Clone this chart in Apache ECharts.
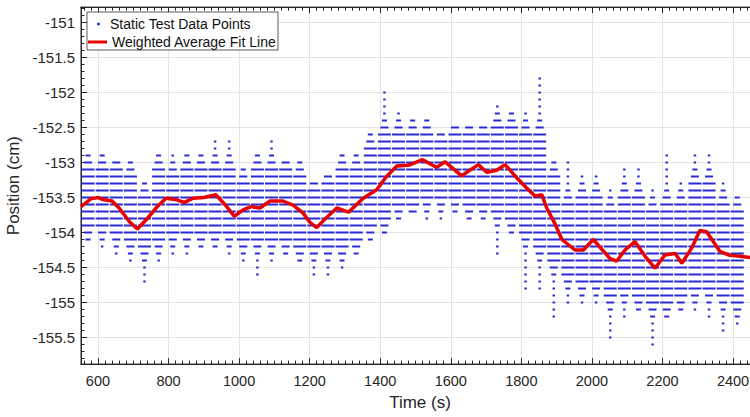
<!DOCTYPE html>
<html><head><meta charset="utf-8">
<script src="https://cdn.jsdelivr.net/npm/echarts@6/dist/echarts.min.js"></script>
<style>html,body{margin:0;padding:0;background:#fff}#c{width:750px;height:417px}</style>
</head><body><div id="c"></div>
<script>
// ---- tick labels ----
const xTickLabels = [600, 800, 1000, 1200, 1400, 1600, 1800, 2000, 2200, 2400];
const yTickLabels = [-155.5, -155, -154.5, -154, -153.5, -153, -152.5, -152, -151.5, -151];

// ---- static test data: per 40 s window, observed 0.1 cm levels ----
const windowCenters = [572,612,652,692,732,772,812,852,892,932,972,1012,1052,1092,1132,1172,1212,1252,1292,1332,1372,1412,1452,1492,1532,1572,1612,1652,1692,1732,1772,1812,1852,1892,1932,1972,2012,2052,2092,2132,2172,2212,2252,2292,2332,2372,2412,2452];
const extHi  = [-152.9,-152.9,-153.0,-153.0,-153.3,-152.9,-152.9,-152.9,-152.9,-152.7,-152.7,-153.1,-152.9,-152.7,-153.0,-153.0,-153.3,-153.2,-152.9,-152.9,-152.6,-152.0,-152.3,-152.4,-152.4,-152.6,-152.5,-152.5,-152.5,-152.2,-152.3,-152.3,-151.8,-153.0,-153.0,-153.2,-153.2,-153.4,-153.1,-153.1,-153.4,-152.9,-153.3,-152.9,-152.9,-153.3,-153.5,-153.5];
const coreHi = [-153.1,-153.1,-153.1,-153.2,-153.5,-153.1,-153.2,-153.1,-153.1,-153.1,-153.1,-153.3,-153.1,-153.1,-153.1,-153.2,-153.4,-153.3,-153.1,-153.1,-152.8,-152.6,-152.6,-152.6,-152.6,-152.7,-152.6,-152.6,-152.6,-152.5,-152.5,-152.6,-152.6,-153.2,-153.6,-153.5,-153.5,-153.7,-153.5,-153.5,-153.7,-153.6,-153.6,-153.3,-153.3,-153.6,-153.7,-153.7];
const coreLo = [-153.9,-153.9,-154.0,-154.1,-154.2,-154.1,-154.0,-154.0,-154.0,-154.0,-154.0,-154.1,-154.1,-154.1,-154.1,-154.2,-154.2,-154.2,-154.2,-154.1,-153.9,-153.8,-153.6,-153.6,-153.5,-153.5,-153.5,-153.6,-153.6,-153.7,-153.8,-154.0,-154.2,-154.4,-154.6,-154.7,-154.7,-154.9,-154.8,-154.9,-155.0,-155.0,-154.9,-154.8,-154.8,-154.9,-155.0,-155.0];
const extLo  = [-154.1,-154.2,-154.3,-154.4,-154.7,-154.4,-154.3,-154.3,-154.2,-154.2,-154.3,-154.4,-154.6,-154.4,-154.3,-154.4,-154.6,-154.6,-154.5,-154.3,-154.1,-154.0,-153.8,-153.7,-153.8,-153.8,-153.7,-153.8,-153.8,-154.3,-154.0,-154.8,-154.8,-155.2,-155.0,-155.0,-155.0,-155.5,-155.2,-155.1,-155.6,-155.2,-155.1,-155.1,-155.2,-155.4,-155.3,-155.2];

// ---- weighted average fit line ----
const fitTimes  = [552,580,600,614,640,660,690,712,740,770,793,820,845,870,900,934,960,987,1010,1034,1059,1088,1124,1153,1181,1200,1220,1245,1277,1310,1352,1390,1418,1447,1480,1520,1560,1584,1631,1678,1702,1730,1754,1791,1820,1839,1858,1872,1895,1915,1952,1976,2004,2030,2051,2070,2094,2122,2151,2179,2207,2236,2255,2283,2306,2325,2344,2363,2387,2420,2451];
const fitValues = [-153.63,-153.52,-153.50,-153.53,-153.55,-153.65,-153.85,-153.95,-153.80,-153.62,-153.51,-153.53,-153.57,-153.51,-153.50,-153.46,-153.60,-153.77,-153.68,-153.63,-153.65,-153.55,-153.55,-153.61,-153.72,-153.85,-153.93,-153.80,-153.65,-153.71,-153.51,-153.39,-153.20,-153.05,-153.04,-152.96,-153.07,-152.99,-153.19,-153.03,-153.14,-153.11,-153.03,-153.24,-153.39,-153.48,-153.46,-153.65,-153.87,-154.10,-154.25,-154.25,-154.10,-154.25,-154.37,-154.41,-154.25,-154.13,-154.34,-154.51,-154.32,-154.30,-154.44,-154.22,-153.97,-153.99,-154.13,-154.27,-154.32,-154.34,-154.36];

// ---- build series data ----
const scatterData = [];
windowCenters.forEach((t, i) => {
  const hi = Math.round(extHi[i] * 10), lo = Math.round(extLo[i] * 10);
  const ch = Math.round(coreHi[i] * 10), cl = Math.round(coreLo[i] * 10);
  for (let k = lo; k <= hi; k++) {
    let d = 0;
    if (k > ch) d = k - ch; else if (k < cl) d = cl - k;
    scatterData.push([t, k / 10, d]);
  }
});
const fitData = fitTimes.map((t, i) => [t, fitValues[i]]);

const xMinor = []; for (let v = 560; v <= 2440; v += 20) xMinor.push(v);
const yMinor = []; for (let k = -1558; k <= -1508; k++) yMinor.push(k / 10);

const XMIN = 552, XMAX = 2451, YMIN = -155.88, YMAX = -150.78;
const FONT = 'Liberation Sans, Arial, Helvetica, sans-serif';
const INK = '#262626';

function xAxisCfg(pos, major, labels) {
  return {
    type: 'value', position: pos, min: XMIN, max: XMAX, gridIndex: 0,
    axisLine: { show: true, onZero: false, lineStyle: { color: INK, width: 1 } },
    axisTick: { show: true, inside: true, length: major ? 6 : 3.5, customValues: major ? xTickLabels : xMinor, lineStyle: { color: INK } },
    axisLabel: labels ? { show: true, customValues: xTickLabels, formatter: v => String(v), margin: 9, color: INK, fontSize: 14.5, fontFamily: FONT } : { show: false },
    splitLine: { show: labels, lineStyle: { color: '#e3e3e3', width: 1 } },
    name: labels ? 'Time (s)' : '', nameLocation: 'middle', nameGap: 30,
    nameTextStyle: { color: INK, fontSize: 17, fontFamily: FONT, padding: [0, 0, 0, 8] }
  };
}
function yAxisCfg(major, labels) {
  return {
    type: 'value', position: 'left', min: YMIN, max: YMAX, gridIndex: 0,
    axisLine: { show: true, onZero: false, lineStyle: { color: INK, width: 1 } },
    axisTick: { show: true, inside: true, length: major ? 6 : 3.5, customValues: major ? yTickLabels : yMinor, lineStyle: { color: INK } },
    axisLabel: labels ? { show: true, customValues: yTickLabels, formatter: v => String(v), margin: 6, color: INK, fontSize: 15, fontFamily: FONT } : { show: false },
    splitLine: { show: labels, lineStyle: { color: '#e3e3e3', width: 1 } },
    name: labels ? 'Position (cm)' : '', nameLocation: 'middle', nameGap: 54,
    nameTextStyle: { color: INK, fontSize: 17, fontFamily: FONT }
  };
}

const chart = echarts.init(document.getElementById('c'), null, { renderer: 'svg' });
chart.setOption({
  animation: false,
  backgroundColor: '#ffffff',
  grid: { left: 81, top: 7.1, width: 670, height: 357, outerBoundsMode: 'none', containLabel: false,
    show: true, borderColor: INK, borderWidth: 1, backgroundColor: 'transparent' },
  xAxis: [xAxisCfg('bottom', true, true), xAxisCfg('bottom', false, false), xAxisCfg('top', true, false), xAxisCfg('top', false, false)],
  yAxis: [yAxisCfg(true, true), yAxisCfg(false, false)],
  legend: [
    { data: [{ name: 'Static Test Data Points', icon: 'circle' }], left: 97, top: 17, padding: 0, itemWidth: 3, itemHeight: 3,
      selectedMode: false, textStyle: { color: '#111', fontSize: 14, fontFamily: FONT, padding: [0, 0, 0, 5] } },
    { data: [{ name: 'Weighted Average Fit Line', icon: 'rect' }], left: 88, top: 35, padding: 0, itemWidth: 19, itemHeight: 3,
      selectedMode: false, textStyle: { color: '#111', fontSize: 14, fontFamily: FONT } }
  ],
  graphic: [{ type: 'rect', shape: { x: 87, y: 12, width: 191, height: 38 }, z: 3,
    style: { fill: '#ffffff', stroke: '#333333', lineWidth: 0.8 } }],
  series: [
    { name: 'Static Test Data Points', type: 'scatter', xAxisIndex: 0, yAxisIndex: 0, data: scatterData,
      symbol: 'rect', symbolSize: v => [v[2] === 0 ? 13 : v[2] === 1 ? 8 : v[2] === 2 ? 5 : 2.5, 2],
      itemStyle: { color: '#2a2ad2', opacity: 1 }, z: 2, silent: true },
    { name: 'Weighted Average Fit Line', type: 'line', xAxisIndex: 0, yAxisIndex: 0, data: fitData,
      showSymbol: false, symbol: 'none', smooth: false, lineStyle: { color: '#e60000', width: 3.5 },
      itemStyle: { color: '#e60000' }, z: 2.5, silent: true }
  ]
});
</script></body></html>
